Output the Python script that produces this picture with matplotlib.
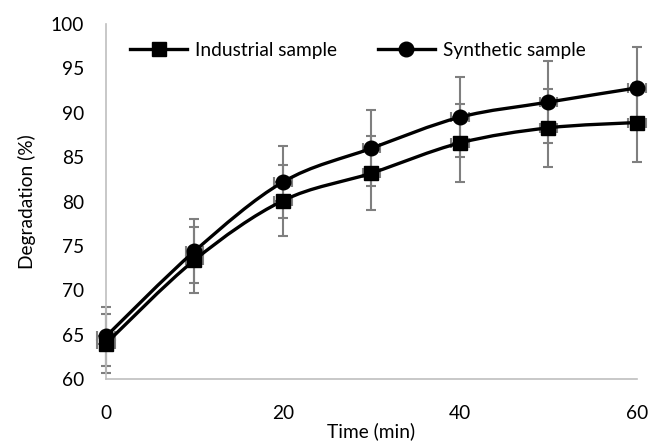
import numpy as np
import matplotlib.pyplot as plt
from matplotlib.path import Path
from matplotlib.patches import PathPatch
from matplotlib.lines import Line2D

plt.rcParams['font.family'] = ['Lato', 'DejaVu Sans']

# data
time = [0, 10, 20, 30, 40, 50, 60]
industrial = [64.0, 73.4, 80.1, 83.2, 86.6, 88.3, 88.9]
industrial_err = [3.3, 3.7, 4.0, 4.2, 4.4, 4.4, 4.4]
synthetic = [64.8, 74.4, 82.2, 86.0, 89.5, 91.2, 92.8]
synthetic_err = [3.3, 3.6, 4.1, 4.3, 4.5, 4.6, 4.6]
time_err = [1.0, 1.0, 1.0, 1.0, 1.0, 1.0, 1.0]


def smooth_path(x, y):
    # Catmull-Rom style bezier through the points, like excel's smoothed line
    x = np.asarray(x, float)
    y = np.asarray(y, float)
    n = len(x)
    verts = [(x[0], y[0])]
    codes = [Path.MOVETO]
    for i in range(n - 1):
        i0 = max(i - 1, 0)
        i3 = min(i + 2, n - 1)
        c1 = (x[i] + (x[i + 1] - x[i0]) / 6, y[i] + (y[i + 1] - y[i0]) / 6)
        c2 = (x[i + 1] - (x[i3] - x[i]) / 6, y[i + 1] - (y[i3] - y[i]) / 6)
        verts += [c1, c2, (x[i + 1], y[i + 1])]
        codes += [Path.CURVE4] * 3
    return Path(verts, codes)


fs = 13.8
fig = plt.figure(figsize=(6.49, 4.46), dpi=100)
ax = fig.add_axes([0.1633, 0.1502, 0.8182, 0.796])

for ys, err in [(industrial, industrial_err), (synthetic, synthetic_err)]:
    ax.errorbar(time, ys, yerr=err, xerr=time_err, fmt='none', ecolor='#7f7f7f',
                elinewidth=1.5, capsize=3.5, capthick=1.5, zorder=2, clip_on=False)

for ys in [industrial, synthetic]:
    ax.add_patch(PathPatch(smooth_path(time, ys), facecolor='none', edgecolor='black',
                           lw=2.4, zorder=3, clip_on=False))

ax.plot(time, industrial, 's', color='black', ms=10, zorder=4, clip_on=False)
ax.plot(time, synthetic, 'o', color='black', ms=10.5, zorder=4, clip_on=False)

ax.set_xlim(0, 60)
ax.set_ylim(60, 100)
ax.set_xticks([0, 20, 40, 60])
ax.set_yticks(range(60, 101, 5))
ax.tick_params(length=0, labelsize=fs)
ax.tick_params(axis='x', pad=19)
ax.tick_params(axis='y', pad=16)
ax.set_xlabel('Time (min)', fontsize=fs, labelpad=0)
ax.set_ylabel('Degradation (%)', fontsize=fs, labelpad=10)

for s in ['top', 'right']:
    ax.spines[s].set_visible(False)
for s in ['left', 'bottom']:
    ax.spines[s].set_color('#bfbfbf')
    ax.spines[s].set_linewidth(1.2)

handles = [Line2D([], [], color='black', lw=2.4, marker='s', ms=10),
           Line2D([], [], color='black', lw=2.4, marker='o', ms=10.5)]
ax.legend(handles, ['Industrial sample', 'Synthetic sample'], ncol=2, frameon=False,
          loc='center left', bbox_to_anchor=(0.045, 0.925), fontsize=fs,
          borderpad=0, borderaxespad=0,
          handlelength=3.0, columnspacing=2.1, handletextpad=0.42)

fig.savefig('out.png', dpi=100)
